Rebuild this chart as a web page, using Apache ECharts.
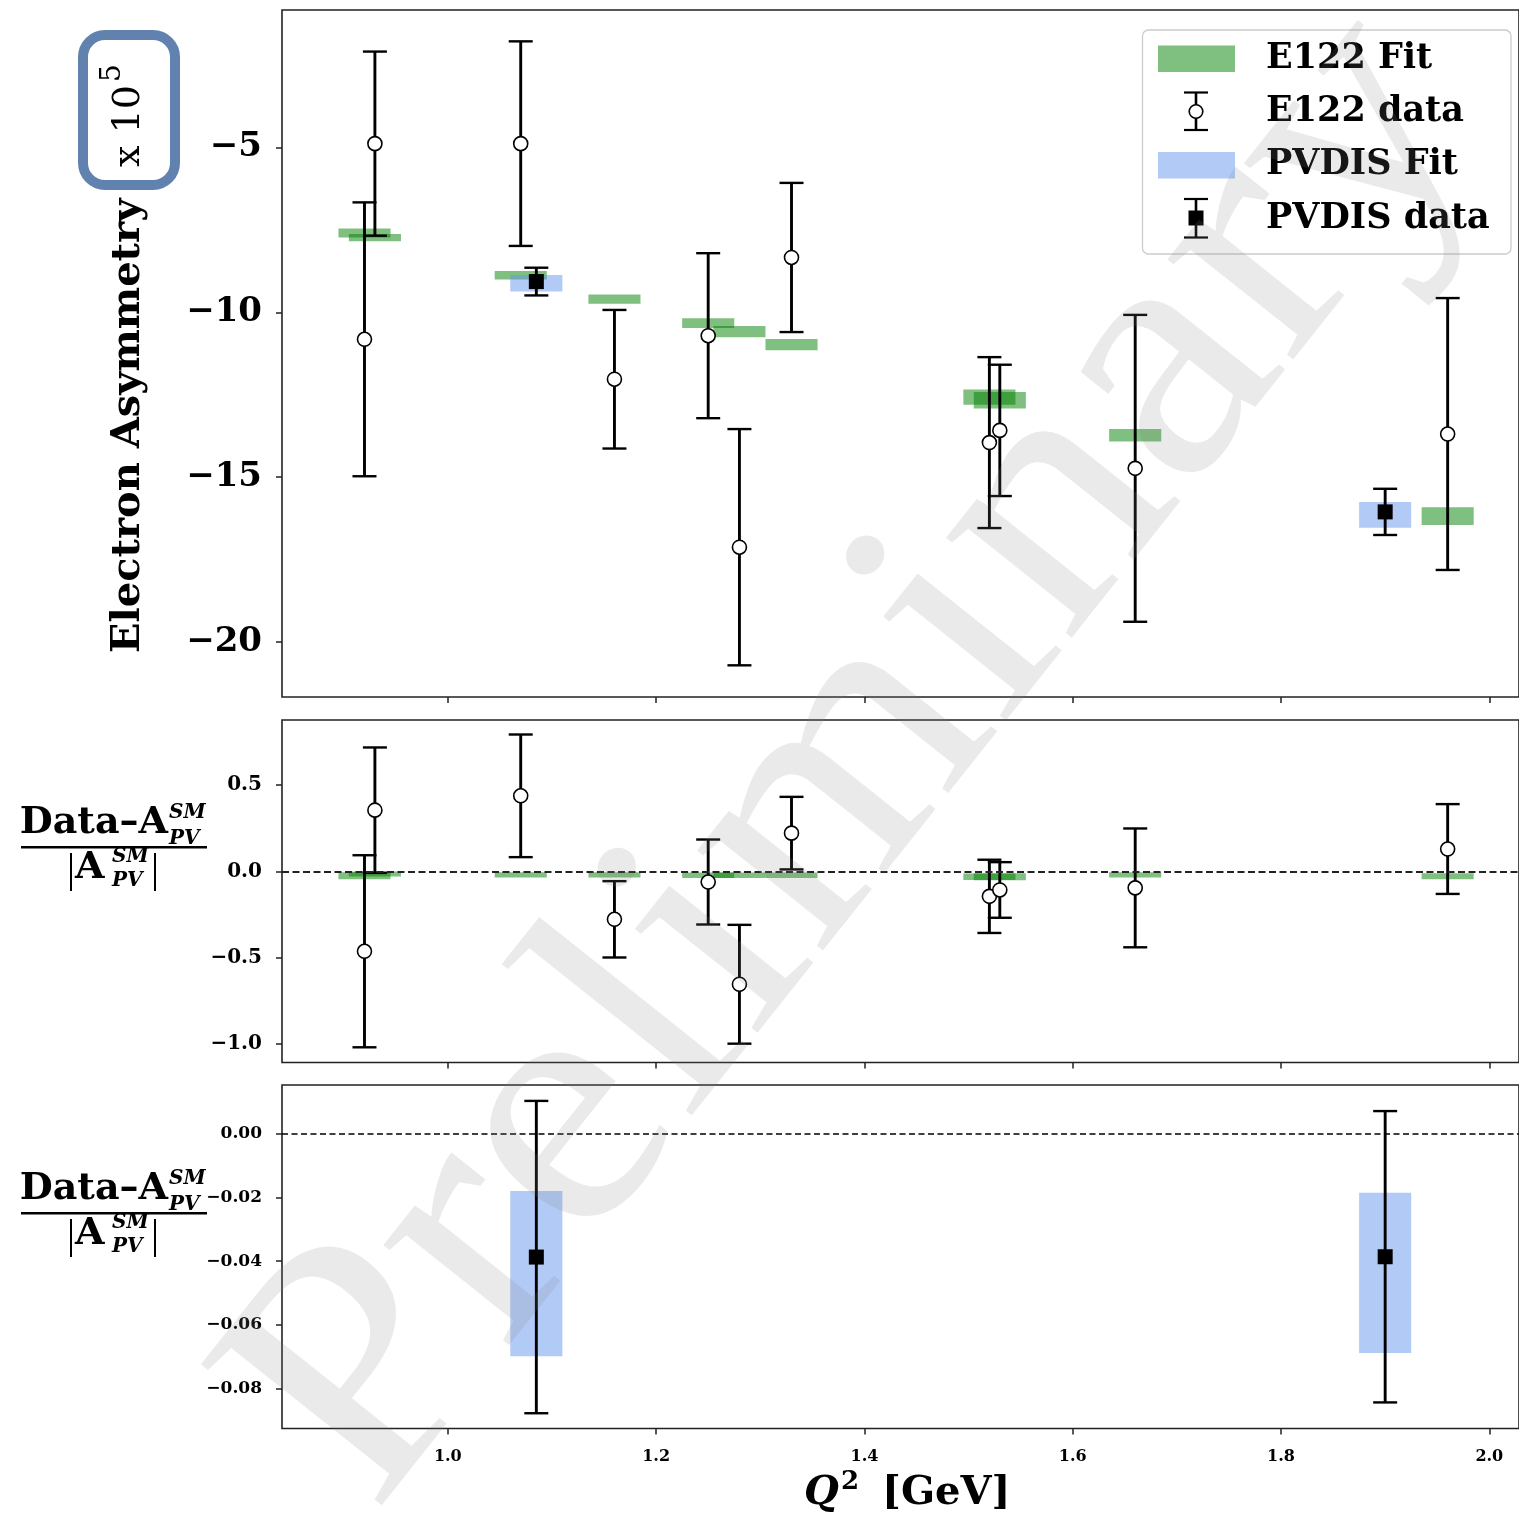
<!DOCTYPE html>
<html>
<head>
<meta charset="utf-8">
<script src="https://cdn.jsdelivr.net/npm/echarts@6.0.0/dist/echarts.min.js"></script>
<style>
html, body { margin: 0; padding: 0; background: #fff; }
#chart { width: 1519px; height: 1519px; }
</style>
</head>
<body>
<div id="chart"></div>
<script>
// E122 points (Q^2 in GeV, asymmetry x 1e5)
const q2E122 = [0.92, 0.93, 1.07, 1.16, 1.25, 1.28, 1.33, 1.52, 1.53, 1.66, 1.96];
const asymE122 = [-10.82, -4.89, -4.89, -12.03, -10.71, -17.12, -8.34, -13.95, -13.58, -14.73, -13.69];
const errE122 = [4.15, 2.79, 3.1, 2.1, 2.5, 3.58, 2.26, 2.59, 1.99, 4.65, 4.12];
const fitE122 = [-7.6, -7.74, -8.88, -9.6, -10.33, -10.59, -10.98, -12.57, -12.67, -13.73, -16.18];
const fitErrE122 = [0.135, 0.11, 0.13, 0.14, 0.15, 0.17, 0.17, 0.23, 0.25, 0.19, 0.27];

// PVDIS points
const q2PVDIS = [1.085, 1.90];
const asymPVDIS = [-9.07, -16.05];
const errPVDIS = [0.42, 0.70];
const fitPVDIS = [-9.12, -16.14];
const fitErrPVDIS = [0.25, 0.39];

// relative residuals (Data - A_SM) / |A_SM|
const resE122 = [-0.462, 0.355, 0.438, -0.277, -0.061, -0.653, 0.222, -0.144, -0.107, -0.095, 0.13];
const resErrE122 = [0.556, 0.363, 0.355, 0.221, 0.246, 0.344, 0.21, 0.212, 0.161, 0.344, 0.26];
const resFitE122 = [-0.025, -0.015, -0.02, -0.02, -0.022, -0.022, -0.022, -0.031, -0.031, -0.02, -0.028];
const resFitErrE122 = [0.02, 0.0145, 0.015, 0.015, 0.016, 0.016, 0.016, 0.019, 0.02, 0.015, 0.017];

const resPVDIS = [-0.0387, -0.0386];
const resErrPVDIS = [0.0491, 0.0458];
const resFitPVDIS = [-0.0439, -0.0437];
const resFitErrPVDIS = [0.026, 0.0252];

// axis ticks
const xTicks = [1.0, 1.2, 1.4, 1.6, 1.8, 2.0];
const yTicksTop = [-20, -15, -10, -5];
const yTicksMid = [-1.0, -0.5, 0.0, 0.5];
const yTicksBot = [-0.08, -0.06, -0.04, -0.02, 0.0];

const FONT = "'DejaVu Serif', serif";
const GREEN = 'rgba(0,128,0,0.5)';
const BLUE = 'rgba(100,149,237,0.5)';
const FIT_HALF_W = 0.025;   // half width of the fit boxes in Q^2
const CAP = 12;             // errorbar cap half width, px

const chart = echarts.init(document.getElementById('chart'), null, { renderer: 'canvas' });

function minusFmt(v, d) {
    const s = Math.abs(v).toFixed(d);
    return (v < -1e-9 ? '\u2212' : '') + s;
}

function zip3(a, b, c) {
    return a.map((v, i) => [v, b[i], c[i]]);
}

function fitSeries(idx, data, color) {
    return {
        type: 'custom',
        xAxisIndex: idx,
        yAxisIndex: idx,
        z: 2,
        clip: true,
        silent: true,
        data: data,
        renderItem: function (params, api) {
            const x = api.value(0), y = api.value(1), h = api.value(2);
            const p1 = api.coord([x - FIT_HALF_W, y + h]);
            const p2 = api.coord([x + FIT_HALF_W, y - h]);
            return {
                type: 'rect',
                shape: { x: p1[0], y: p1[1], width: p2[0] - p1[0], height: p2[1] - p1[1] },
                style: { fill: color }
            };
        }
    };
}

function errSeries(idx, data) {
    return {
        type: 'custom',
        xAxisIndex: idx,
        yAxisIndex: idx,
        z: 3,
        silent: true,
        data: data,
        renderItem: function (params, api) {
            const x = api.value(0), y = api.value(1), e = api.value(2);
            const top = api.coord([x, y + e]);
            const bot = api.coord([x, y - e]);
            const st = { stroke: '#000', lineWidth: 2.4 };
            return {
                type: 'group',
                children: [
                    { type: 'line', shape: { x1: top[0], y1: top[1], x2: bot[0], y2: bot[1] }, style: { stroke: '#000', lineWidth: 2.9 } },
                    { type: 'line', shape: { x1: top[0] - CAP, y1: top[1], x2: top[0] + CAP, y2: top[1] }, style: st },
                    { type: 'line', shape: { x1: bot[0] - CAP, y1: bot[1], x2: bot[0] + CAP, y2: bot[1] }, style: st }
                ]
            };
        }
    };
}

function markerSeries(idx, data, open, zeroLine) {
    const s = {
        type: 'scatter',
        xAxisIndex: idx,
        yAxisIndex: idx,
        z: 4,
        silent: true,
        symbol: open ? 'circle' : 'rect',
        symbolSize: open ? 14 : 15,
        itemStyle: open
            ? { color: '#fff', borderColor: '#000', borderWidth: 1.6, opacity: 1 }
            : { color: '#000', opacity: 1 },
        data: data
    };
    if (zeroLine) {
        s.markLine = {
            silent: true,
            symbol: 'none',
            label: { show: false },
            lineStyle: zeroLine,
            data: [{ yAxis: 0 }]
        };
    }
    return s;
}

function xAxis(idx, showLabel) {
    return {
        type: 'value',
        gridIndex: idx,
        position: 'bottom',
        min: 0.8408,
        max: 2.0285,
        axisLine: { show: false, onZero: false },
        splitLine: { show: false },
        axisTick: { show: true, customValues: xTicks, length: 6, lineStyle: { color: '#222', width: 1.5 } },
        axisLabel: {
            show: showLabel,
            customValues: xTicks,
            margin: 20,
            color: '#000',
            fontFamily: FONT,
            fontWeight: 'bold',
            fontSize: 16,
            formatter: v => v.toFixed(1)
        }
    };
}

function yAxis(idx, min, max, ticks, size, dec) {
    return {
        type: 'value',
        gridIndex: idx,
        position: 'left',
        min: min,
        max: max,
        axisLine: { show: false, onZero: false },
        splitLine: { show: false },
        axisTick: { show: true, customValues: ticks, length: 6, lineStyle: { color: '#222', width: 1.5 } },
        axisLabel: {
            customValues: ticks,
            margin: 20,
            color: '#000',
            fontFamily: FONT,
            fontWeight: 'bold',
            fontSize: size,
            formatter: v => minusFmt(v, dec)
        }
    };
}

const gridBase = { left: 282, width: 1237, show: true, borderColor: '#222', borderWidth: 1.6, backgroundColor: 'transparent' };

// text helper for graphic elements
function txt(text, x, y, size, opts) {
    return {
        type: 'text',
        x: x,
        y: y,
        silent: true,
        style: Object.assign({
            text: text,
            fill: '#000',
            fontFamily: FONT,
            fontSize: size,
            fontWeight: 'bold',
            textAlign: 'left',
            textVerticalAlign: 'middle'
        }, opts || {})
    };
}

function vline(x, y1, y2, w) {
    return { type: 'line', silent: true, shape: { x1: x, y1: y1, x2: x, y2: y2 }, style: { stroke: '#000', lineWidth: w } };
}

// (Data - A_PV^SM) / |A_PV^SM| label
function fracLabel(dy) {
    const it = { fontStyle: 'italic' };
    return [
        txt('Data\u2013A', 168, 823 + dy, 38, { textAlign: 'right' }),
        txt('SM', 169, 813 + dy, 20, it),
        txt('PV', 169, 839 + dy, 20, it),
        { type: 'line', silent: true, shape: { x1: 21, y1: 847.3 + dy, x2: 207, y2: 847.3 + dy }, style: { stroke: '#000', lineWidth: 2.6 } },
        vline(71, 853 + dy, 891 + dy, 2),
        txt('A', 75, 868 + dy, 38),
        txt('SM', 112, 857 + dy, 20, it),
        txt('PV', 112, 881 + dy, 20, it),
        vline(155, 853 + dy, 891 + dy, 2)
    ];
}

function rot(el) {
    el.rotation = Math.PI / 2;
    return el;
}

const legendX = 1196;
const graphics = [
    // top y label, rotated
    rot(txt('Electron Asymmetry', 129, 653, 40)),
    rot(txt('x 10', 129, 167, 38, { fontWeight: 'normal' })),
    rot(txt('5', 113, 82, 28, { fontWeight: 'normal' })),
    { type: 'rect', silent: true, shape: { x: 83, y: 35, width: 92, height: 150, r: 22 }, style: { fill: 'none', stroke: '#6182ae', lineWidth: 10 } },

    // x axis title
    txt('Q', 804, 1494, 40, { fontStyle: 'italic' }),
    txt('2', 841, 1482, 26),
    txt('[GeV]', 882, 1494, 40),

    // legend
    { type: 'rect', silent: true, z: 50, shape: { x: 1142.5, y: 30, width: 368.5, height: 224, r: 6 }, style: { fill: 'rgba(255,255,255,0.8)', stroke: '#cccccc', lineWidth: 1.3 } },
    { type: 'rect', silent: true, z: 51, shape: { x: 1158, y: 45.5, width: 77, height: 26.5 }, style: { fill: GREEN } },
    { type: 'line', silent: true, z: 51, shape: { x1: legendX, y1: 92.5, x2: legendX, y2: 130 }, style: { stroke: '#000', lineWidth: 2.6 } },
    { type: 'line', silent: true, z: 51, shape: { x1: legendX - CAP, y1: 92.5, x2: legendX + CAP, y2: 92.5 }, style: { stroke: '#000', lineWidth: 2.2 } },
    { type: 'line', silent: true, z: 51, shape: { x1: legendX - CAP, y1: 130, x2: legendX + CAP, y2: 130 }, style: { stroke: '#000', lineWidth: 2.2 } },
    { type: 'circle', silent: true, z: 52, shape: { cx: legendX, cy: 111.5, r: 6.8 }, style: { fill: '#fff', stroke: '#000', lineWidth: 1.6 } },
    { type: 'rect', silent: true, z: 51, shape: { x: 1158, y: 152, width: 77, height: 26.5 }, style: { fill: BLUE } },
    { type: 'line', silent: true, z: 51, shape: { x1: legendX, y1: 199, x2: legendX, y2: 237.5 }, style: { stroke: '#000', lineWidth: 2.6 } },
    { type: 'line', silent: true, z: 51, shape: { x1: legendX - CAP, y1: 199, x2: legendX + CAP, y2: 199 }, style: { stroke: '#000', lineWidth: 2.2 } },
    { type: 'line', silent: true, z: 51, shape: { x1: legendX - CAP, y1: 237.5, x2: legendX + CAP, y2: 237.5 }, style: { stroke: '#000', lineWidth: 2.2 } },
    { type: 'rect', silent: true, z: 52, shape: { x: legendX - 7.5, y: 210.5, width: 15, height: 15 }, style: { fill: '#000' } },
    Object.assign(txt('E122 Fit', 1266, 59, 35), { z: 52 }),
    Object.assign(txt('E122 data', 1266, 112, 35), { z: 52 }),
    Object.assign(txt('PVDIS Fit', 1266, 165, 35), { z: 52 }),
    Object.assign(txt('PVDIS data', 1266, 219, 35), { z: 52 }),

    // watermark
    {
        type: 'text', silent: true, z: 100,
        x: 857, y: 760, rotation: 51.5 * Math.PI / 180, scaleX: 1.08,
        style: {
            text: 'Preliminary',
            fill: 'rgba(128,128,128,0.17)',
            fontFamily: "'Liberation Serif', serif",
            fontSize: 350,
            textAlign: 'center',
            textVerticalAlign: 'middle'
        }
    }
].concat(fracLabel(0), fracLabel(366));

const option = {
    animation: false,
    backgroundColor: '#fff',
    grid: [
        Object.assign({ top: 10, height: 687 }, gridBase),
        Object.assign({ top: 720, height: 342.5 }, gridBase),
        Object.assign({ top: 1085, height: 343.5 }, gridBase)
    ],
    xAxis: [xAxis(0, false), xAxis(1, false), xAxis(2, true)],
    yAxis: [
        yAxis(0, -21.66, -0.84, yTicksTop, 34, 0),
        yAxis(1, -1.106, 0.877, yTicksMid, 20, 1),
        yAxis(2, -0.0926, 0.0154, yTicksBot, 17, 2)
    ],
    series: [
        fitSeries(0, zip3(q2E122, fitE122, fitErrE122), GREEN),
        fitSeries(0, zip3(q2PVDIS, fitPVDIS, fitErrPVDIS), BLUE),
        errSeries(0, zip3(q2E122, asymE122, errE122)),
        errSeries(0, zip3(q2PVDIS, asymPVDIS, errPVDIS)),
        markerSeries(0, q2E122.map((q, i) => [q, asymE122[i]]), true),
        markerSeries(0, q2PVDIS.map((q, i) => [q, asymPVDIS[i]]), false),

        fitSeries(1, zip3(q2E122, resFitE122, resFitErrE122), GREEN),
        errSeries(1, zip3(q2E122, resE122, resErrE122)),
        markerSeries(1, q2E122.map((q, i) => [q, resE122[i]]), true,
            { type: [7, 3.5], color: '#222', width: 1.8 }),

        fitSeries(2, zip3(q2PVDIS, resFitPVDIS, resFitErrPVDIS), BLUE),
        errSeries(2, zip3(q2PVDIS, resPVDIS, resErrPVDIS)),
        markerSeries(2, q2PVDIS.map((q, i) => [q, resPVDIS[i]]), false,
            { type: [6, 3.5], color: '#000', width: 1.5 })
    ],
    graphic: graphics
};

chart.setOption(option);
</script>
</body>
</html>
